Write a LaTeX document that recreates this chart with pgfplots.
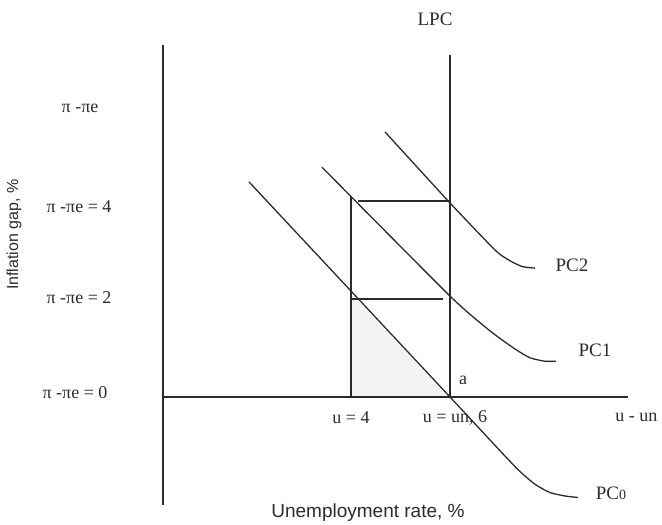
\documentclass[border=0pt]{standalone}
\usepackage{fontspec}
\setmainfont{Liberation Serif}
\setsansfont{Liberation Sans}
\usepackage{pgfplots}
\pgfplotsset{compat=1.18}

\definecolor{ink}{HTML}{2B2B2B}
\tikzset{
    lbl/.style={font=\fontsize{18}{21}\selectfont, text=ink},
    big/.style={font=\fontsize{19}{22}\selectfont, text=ink},
}

\begin{document}
\begin{tikzpicture}
\begin{axis}[
    width=662pt, height=523pt,
    scale only axis,
    xmin=-3, xmax=10.24,
    ymin=-2.571, ymax=8.102,
    axis lines=none,
    clip=false,
]
% canvas
\path (rel axis cs:0,0) rectangle (rel axis cs:1,1);

% shaded triangle
\addplot[fill=gray!10, draw=none] coordinates {(4,2.12) (4,0) (5.96,0)};

% axes
\addplot[ink, line width=1.8pt] coordinates {(0.26,7.18) (0.26,-2.20)};
\addplot[ink, line width=1.8pt] coordinates {(0.26,0) (9.56,0)};

% LPC
\addplot[ink, line width=1.8pt] coordinates {(6,6.98) (6,0)};

% u = 4 and horizontal guides
\addplot[ink, line width=1.6pt] coordinates {(4.02,4.1) (4.02,0)};
\addplot[ink, line width=1.6pt] coordinates {(4.16,4) (6,4)};
\addplot[ink, line width=1.6pt] coordinates {(4.02,2) (5.86,2)};

% Phillips curves
\addplot[ink, line width=1.3pt, smooth, tension=0.35] coordinates {
    (1.98,4.39) (6,0) (7.3,-1.42) (7.7,-1.78) (8.0,-1.95) (8.3,-2.02) (8.56,-2.05)};
\addplot[ink, line width=1.3pt, smooth, tension=0.35] coordinates {
    (3.44,4.69) (6,2.06) (6.8,1.35) (7.3,0.98) (7.6,0.80) (7.9,0.73) (8.12,0.73)};
\addplot[ink, line width=1.3pt, smooth, tension=0.35] coordinates {
    (4.7,5.41) (6,3.96) (6.9,3.0) (7.2,2.78) (7.45,2.66) (7.7,2.63)};

% labels
\node[big] at (axis cs:5.70,7.71) {LPC};
\node[big] at (axis cs:8.44,2.69) {PC2};
\node[big] at (axis cs:8.90,0.96) {PC1};
\node[big] at (axis cs:9.22,-1.96) {PC{\fontsize{14}{16}\selectfont 0}};

\node[lbl] at (axis cs:-1.40,5.90) {π -πe};
\node[lbl] at (axis cs:-1.42,3.88) {π -πe = 4};
\node[lbl] at (axis cs:-1.42,2.02) {π -πe = 2};
\node[lbl] at (axis cs:-1.50,0.10) {π -πe = 0};

\node[lbl] at (axis cs:4.02,-0.43) {u = 4};
\node[lbl] at (axis cs:6.10,-0.43) {u = un, 6};
\node[lbl, anchor=east] at (axis cs:10.22,-0.41) {u - un};
\node[lbl] at (axis cs:6.26,0.35) {a};

\node[font=\sffamily\fontsize{19}{22}\selectfont, text=ink] at (axis cs:4.36,-2.35) {Unemployment rate, \%};
\node[font=\sffamily\fontsize{16}{19}\selectfont, text=ink, rotate=90] at (axis cs:-2.72,3.31) {Inflation gap, \%};
\end{axis}
\end{tikzpicture}
\end{document}
